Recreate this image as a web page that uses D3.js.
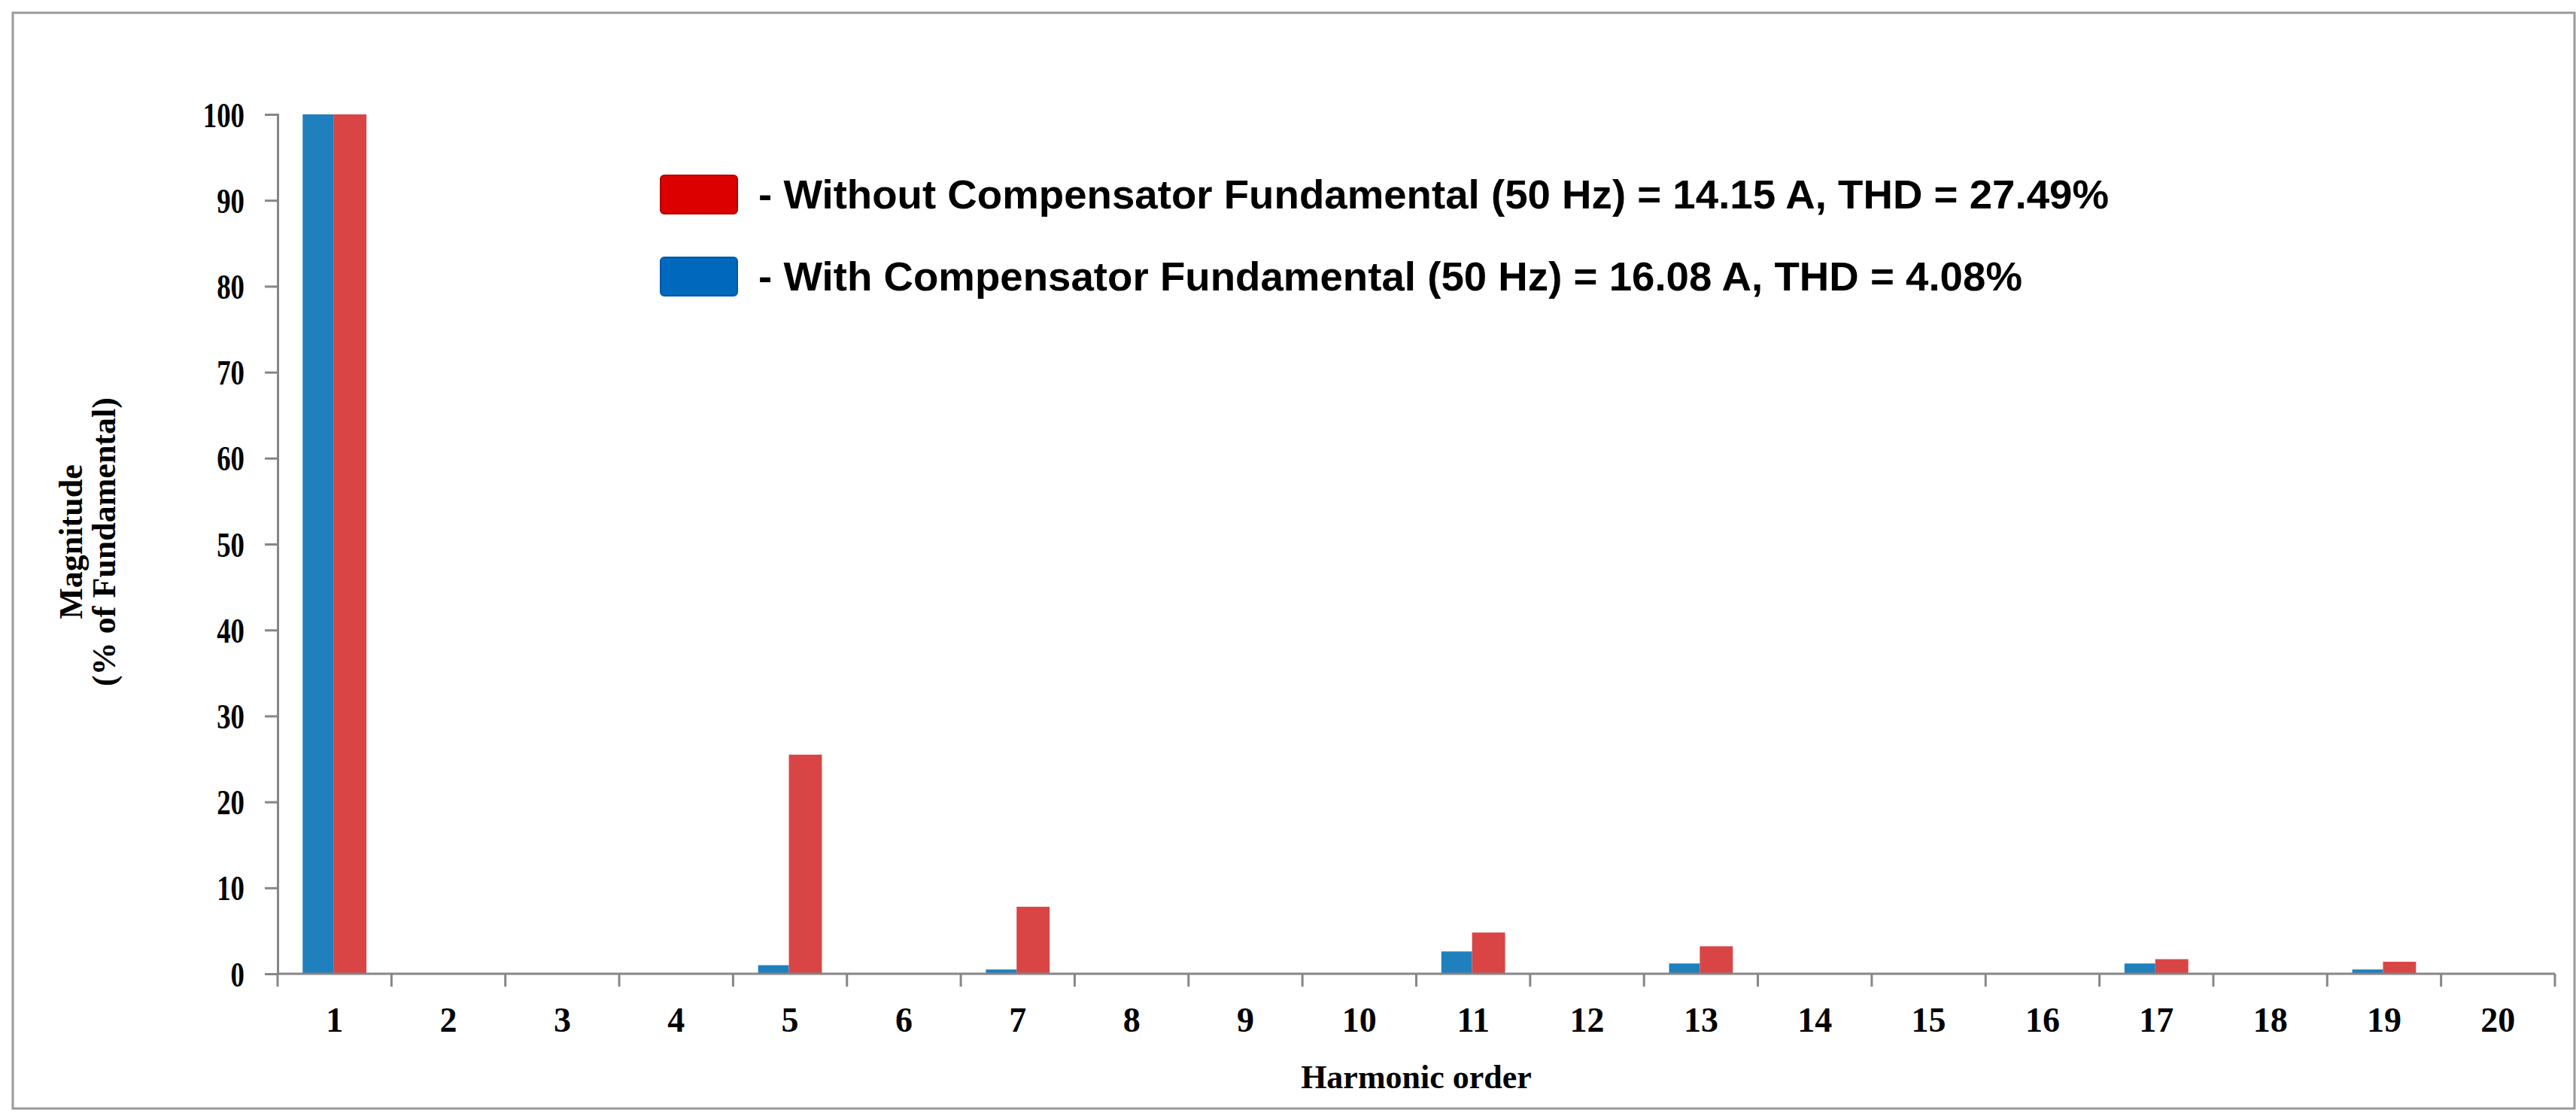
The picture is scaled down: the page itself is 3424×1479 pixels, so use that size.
<!DOCTYPE html>
<html><head><meta charset="utf-8">
<script src="https://cdn.jsdelivr.net/npm/d3@7"></script>
<style>body{margin:0;background:#fff}</style>
</head><body><svg id="c" width="3424" height="1479"></svg>
<script>
const categories = ["1","2","3","4","5","6","7","8","9","10","11","12","13","14","15","16","17","18","19","20"];
const withComp =    [100,0,0,0,1.0,0,0.5,0,0,0,2.6,0,1.2,0,0,0,1.2,0,0.5,0];
const withoutComp = [100,0,0,0,25.5,0,7.8,0,0,0,4.8,0,3.2,0,0,0,1.7,0,1.4,0];
const yTicks = [0,10,20,30,40,50,60,70,80,90,100];
const legendLabels = ["- Without Compensator Fundamental (50 Hz) = 14.15 A, THD = 27.49%",
                      "- With Compensator Fundamental (50 Hz) = 16.08 A, THD = 4.08%"];

const svg = d3.select("#c");
svg.append("rect").attr("x",17).attr("y",17).attr("width",3405).attr("height",1456)
  .attr("fill","#fff").attr("stroke","#9a9a9a").attr("stroke-width",3);

const L=369,R=3396,T=152,B=1294;
const x = d3.scaleBand().domain(categories).range([L,R]);
const y = d3.scaleLinear().domain([0,100]).range([B,T]);
const grey="#868686";

const bw=x.bandwidth();
svg.append("g").selectAll("rect").data(categories).join("rect")
  .attr("x",d=>x(d)+bw*0.22).attr("width",bw*0.27)
  .attr("y",(d,i)=>y(withComp[i])).attr("height",(d,i)=>B-y(withComp[i]))
  .attr("fill","#1f80bd");
svg.append("g").selectAll("rect").data(categories).join("rect")
  .attr("x",d=>x(d)+bw*0.49).attr("width",bw*0.29)
  .attr("y",(d,i)=>y(withoutComp[i])).attr("height",(d,i)=>B-y(withoutComp[i]))
  .attr("fill","#d94545");

const ya = svg.append("g").attr("transform",`translate(${L},0)`)
  .call(d3.axisLeft(y).tickValues(yTicks).tickSize(17).tickPadding(22));
ya.select("path").attr("stroke",grey).attr("stroke-width",3);
ya.selectAll("line").attr("stroke",grey).attr("stroke-width",3);
ya.selectAll("text").attr("font-family","Liberation Serif").attr("font-weight","bold")
  .attr("font-size",46).attr("fill","#000").attr("x",-44).attr("dy","0.35em")
  .attr("transform","scale(0.8,1)").attr("x",-44/0.8);

const xa = svg.append("g").attr("transform",`translate(0,${B})`)
  .call(d3.axisBottom(x).tickSize(0).tickPadding(44));
xa.select("path").attr("stroke",grey).attr("stroke-width",3).attr("d",`M${L},0H${R}`);
xa.selectAll(".tick").each(function(){
  const g=d3.select(this); const tx=+g.attr("transform").match(/translate\(([-\d.]+)/)[1];
  g.attr("transform",`translate(${tx},0) scale(0.8,1)`).select("text").attr("x",0);
  g.attr("transform",`translate(${tx},0)`);
});
xa.selectAll("text").attr("font-family","Liberation Serif").attr("font-weight","bold")
  .attr("font-size",46).attr("fill","#000").attr("textLength",null);
svg.append("g").selectAll("line").data(categories.concat(["end"])).join("line")
  .attr("x1",(d,i)=>L+i*bw).attr("x2",(d,i)=>L+i*bw).attr("y1",B).attr("y2",B+17)
  .attr("stroke",grey).attr("stroke-width",3);

svg.append("text").attr("x",(L+R)/2).attr("y",1446).attr("text-anchor","middle")
  .attr("font-family","Liberation Serif").attr("font-weight","bold").attr("font-size",44)
  .text("Harmonic order");
const yt = svg.append("text").attr("transform","translate(121,720) rotate(-90)")
  .attr("text-anchor","middle").attr("font-family","Liberation Serif").attr("font-weight","bold").attr("font-size",44);
yt.append("tspan").attr("x",0).attr("dy",-12).text("Magnitude");
yt.append("tspan").attr("x",0).attr("dy",44).text("(% of Fundamental)");

const leg=[{c:"#dd0000",s:"#b00000",y:233},{c:"#0068bd",s:"#0058a8",y:342}];
leg.forEach((d,i)=>{
  svg.append("rect").attr("x",878).attr("y",d.y).attr("width",102).attr("height",51)
    .attr("rx",5).attr("fill",d.c).attr("stroke",d.s).attr("stroke-width",2);
  svg.append("text").attr("x",1008).attr("y",d.y+44)
    .attr("font-family","Liberation Sans Narrow, Liberation Sans").attr("font-weight","bold")
    .attr("font-size",54).attr("textLength", i===0?1795:1680).attr("lengthAdjust","spacingAndGlyphs")
    .text(legendLabels[i]);
});
</script></body></html>
